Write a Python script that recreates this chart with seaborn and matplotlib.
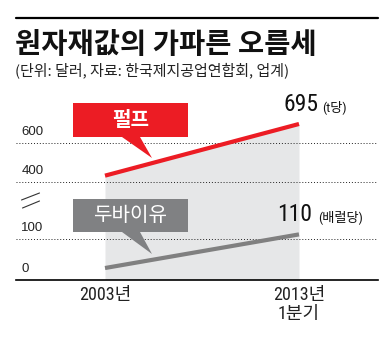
import matplotlib
matplotlib.use("Agg")
import matplotlib.pyplot as plt
import matplotlib.transforms as mtransforms
from matplotlib.patches import Polygon
from matplotlib.lines import Line2D
import pandas as pd
import seaborn as sns

# ---- data ----
periods = ["2003년", "2013년\n1분기"]
pulp = [430, 695]        # 펄프, 달러/t
dubai = [28, 110]        # 두바이유, 달러/배럴
pulp_ticks = [400, 600]
dubai_ticks = [0, 100]

title = "원자재값의 가파른 오름세"
subtitle = "(단위: 달러, 자료: 한국제지공업연합회, 업계)"

RED = "#ec1c24"
GREY_LINE = "#808080"
GREY_BOX = "#808183"
FILL = "#e6e7e8"

sns.set_theme(style="white")
plt.rcParams["font.family"] = ["Noto Sans CJK KR", "DejaVu Sans"]
KR = ["Noto Sans CJK KR", "DejaVu Sans"]
NUM_NARROW = ["Liberation Sans Narrow", "Roboto Condensed", "DejaVu Sans",
              "Noto Sans CJK KR"]
NUM = ["Liberation Sans", "Noto Sans CJK KR"]

W, H = 390, 349
fig = plt.figure(figsize=(W / 100, H / 100), dpi=100)
fig.patch.set_facecolor("white")


def fx(px):
    return px / W


def fy(py):
    return 1 - py / H


# plot region: x 16..378 px, baseline at y=279.5 px, top at y=90 px
left, right, bottom, top = 16, 378, 279.5, 90
ax = fig.add_axes([fx(left), fy(bottom), (right - left) / W, (bottom - top) / H])
ax2 = ax.twinx()

x_pos = list(range(len(periods)))
x0_px, x1_px = 105, 299
unit = (x1_px - x0_px)
ax.set_xlim(-(x0_px - left) / unit, 1 + (right - x1_px) / unit)

# lower scale (dubai): 0.41 px per dollar
lo_scale = 0.41
ax.set_ylim(0, (bottom - top) / lo_scale)
# upper scale (pulp): 0.195 px per dollar, 400 at y=181.5 px
hi_scale = 0.195
hi_bottom = 400 - (bottom - 181.5) / hi_scale
ax2.set_ylim(hi_bottom, hi_bottom + (bottom - top) / hi_scale)

df = pd.DataFrame({"x": x_pos, "pulp": pulp, "dubai": dubai})

# shaded band under the pulp line
ax2.fill_between(df["x"], df["pulp"], hi_bottom, color=FILL, lw=0, zorder=1)

# dotted gridlines
for v in pulp_ticks:
    ax2.axhline(v, color="#222222", lw=0.7, ls=(0, (1, 2)), zorder=2)
ax2.axhline(dubai_ticks[1] * lo_scale / hi_scale + hi_bottom, color="#222222",
            lw=0.7, ls=(0, (1, 2)), zorder=2)

sns.lineplot(data=df, x="x", y="pulp", ax=ax2, color=RED, lw=3.0,
             solid_capstyle="butt", zorder=4)
sns.lineplot(data=df, x="x", y="dubai", ax=ax, color=GREY_LINE, lw=3.0,
             solid_capstyle="butt", zorder=4)

ax2.set_zorder(1)
ax.patch.set_visible(False)
ax2.patch.set_visible(False)
ax.set_zorder(2)

for a in (ax, ax2):
    for s in a.spines.values():
        s.set_visible(False)
    a.set_ylabel("")
    a.set_xlabel("")
    a.set_yticks([])
ax2.set_xticks([])

ax.spines["bottom"].set_visible(True)
ax.spines["bottom"].set_color("black")
ax.spines["bottom"].set_linewidth(1.2)
ax.set_xticks(x_pos)
ax.set_xticklabels(periods, fontsize=13, family=NUM_NARROW,
                   fontstretch="condensed", color="#222222", linespacing=1.05)
ax.tick_params(axis="x", direction="in", length=16.5, width=0.8,
               color="#333333", pad=5)

# y tick labels sitting above their lines
blend_hi = mtransforms.blended_transform_factory(ax.transAxes, ax2.transData)
blend_lo = mtransforms.blended_transform_factory(ax.transAxes, ax.transData)
for v in pulp_ticks:
    ax2.annotate(str(v), xy=(0.015, v), xycoords=blend_hi, xytext=(0, 3.5),
                 textcoords="offset points", fontsize=9.5, family=NUM,
                 color="#222222", ha="left", va="bottom")
for v in dubai_ticks:
    ax.annotate(str(v), xy=(0.015, v), xycoords=blend_lo, xytext=(0, 3.5),
                textcoords="offset points", fontsize=9.5, family=NUM,
                color="#222222", ha="left", va="bottom")

# end value labels
val_kw = dict(textcoords="offset points", family=NUM_NARROW,
              fontstretch="condensed", color="#111111", va="baseline")
ax2.annotate(f"{pulp[-1]}", xy=(x_pos[-1], pulp[-1]), xytext=(14, 9.5),
             fontsize=17, ha="right", **val_kw)
ax2.annotate("(t당)", xy=(x_pos[-1], pulp[-1]), xytext=(16.5, 9.5),
             fontsize=9.5, ha="left", **val_kw)
ax.annotate(f"{dubai[-1]}", xy=(x_pos[-1], dubai[-1]), xytext=(9.5, 9.5),
            fontsize=17, ha="right", **val_kw)
ax.annotate("(배럴당)", xy=(x_pos[-1], dubai[-1]), xytext=(13.5, 9.5),
            fontsize=9.5, ha="left", **val_kw)

# callout boxes
def callout(y_top, y_bot, tip_y, color):
    pts = [(73, y_top), (188, y_top), (188, y_bot), (140, y_bot),
           (152, tip_y), (122, y_bot), (73, y_bot)]
    poly = Polygon([(fx(a), fy(b)) for a, b in pts], closed=True,
                   transform=fig.transFigure, facecolor=color, edgecolor="none",
                   zorder=6)
    fig.add_artist(poly)


callout(103, 137, 158, RED)
callout(199, 232, 254, GREY_BOX)
fig.text(fx(130.5), fy(120), "펄프", fontsize=14.5, fontweight="bold",
         color="white", ha="center", va="center", family=KR, zorder=7)
fig.text(fx(130.5), fy(215.5), "두바이유", fontsize=14.5, fontweight="medium",
         color="white", ha="center", va="center", family=KR, zorder=7)

# axis break marks
for (xa, ya, xb, yb) in [(21.5, 200, 39.5, 193), (22.5, 208, 39.5, 201)]:
    fig.add_artist(Line2D([fx(xa), fx(xb)], [fy(ya), fy(yb)],
                          transform=fig.transFigure, color="#333333", lw=0.8))

# header
fig.add_artist(Line2D([fx(16), fx(378)], [fy(18), fy(18)],
                      transform=fig.transFigure, color="black", lw=1.6))
fig.text(fx(15), fy(45), title, fontsize=20.5, fontweight="bold", family=KR,
         color="#111111", ha="left", va="center")
fig.text(fx(15), fy(70), subtitle, fontsize=10.8, family=KR,
         color="#222222", ha="left", va="center")

fig.savefig("out.png", dpi=100, facecolor="white")
